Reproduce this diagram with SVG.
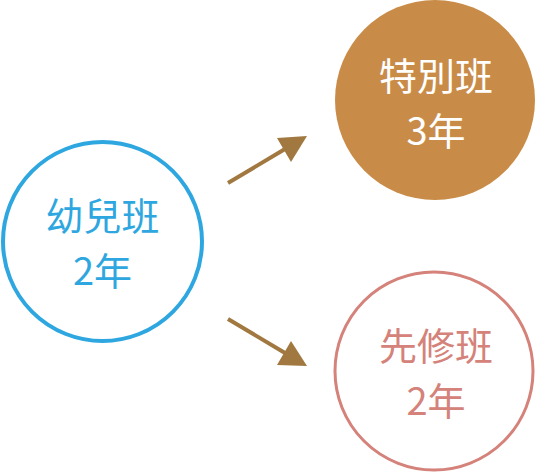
<svg xmlns="http://www.w3.org/2000/svg" width="538" height="474" viewBox="0 0 538 474">
<style>
.t{font-family:"Noto Sans CJK TC","Noto Sans CJK JP",sans-serif;font-size:38px;text-anchor:middle;font-weight:400}
.arrow{stroke:#a07840;stroke-width:4;fill:none}
.head{fill:#a07840}
</style>
<rect width="538" height="474" fill="#ffffff"/>
<g id="youer">
<circle cx="102.5" cy="241.5" r="99.5" fill="#ffffff" stroke="#2ea7e0" stroke-width="4"/>
<text class="t" x="102.5" y="230" fill="#2ea7e0">幼兒班</text>
<text class="t" x="102.5" y="285" fill="#2ea7e0">2年</text>
</g>
<g id="tebie">
<circle cx="435" cy="100" r="100" fill="#c98c48"/>
<text class="t" x="436" y="90" fill="#ffffff">特別班</text>
<text class="t" x="436" y="145" fill="#ffffff">3年</text>
</g>
<g id="xianxiu">
<circle cx="434" cy="371" r="99" fill="#ffffff" stroke="#d4827a" stroke-width="3"/>
<text class="t" x="436" y="360" fill="#d4827a">先修班</text>
<text class="t" x="436" y="415" fill="#d4827a">2年</text>
</g>
<g id="connectors">
<line class="arrow" x1="228" y1="183" x2="285" y2="149"/>
<polygon class="head" points="307,136 277,138 291,162"/>
<line class="arrow" x1="228" y1="319" x2="285" y2="353"/>
<polygon class="head" points="307,366 277,365 291,341"/>
</g>
</svg>
